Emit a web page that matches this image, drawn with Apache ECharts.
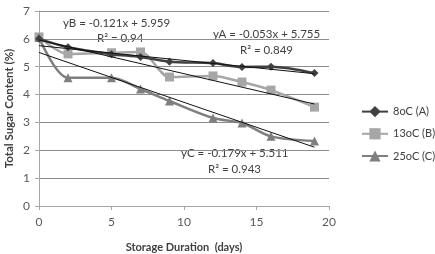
<!DOCTYPE html>
<html>
<head>
<meta charset="utf-8">
<script src="https://cdn.jsdelivr.net/npm/echarts@6/dist/echarts.min.js"></script>
<style>
  html, body { margin: 0; padding: 0; background: #fff; }
  #chart { width: 435px; height: 254px; }
</style>
</head>
<body>
<div id="chart"></div>
<script>
// storage days and total sugar content per temperature
const days = [0, 2, 5, 7, 9, 12, 14, 16, 19]
const sugarA = [6.0, 5.7, 5.45, 5.35, 5.18, 5.13, 4.99, 5.0, 4.77]
const sugarB = [6.07, 5.46, 5.5, 5.53, 4.63, 4.67, 4.45, 4.16, 3.55]
const sugarC = [6.05, 4.6, 4.6, 4.2, 3.77, 3.16, 2.98, 2.5, 2.33]

// linear trend end points (from the fitted equations)
const trendA = [[0, 5.755], [19, 4.748]]
const trendB = [[0, 5.959], [19, 3.660]]
const trendC = [[0, 5.511], [19, 2.110]]

const names = ['8oC (A)', '13oC (B)', '25oC (C)']

const font = 'Lato, "Open Sans", sans-serif'
const pairs = (ys) => days.map((d, i) => [d, ys[i]])

let chart = echarts.init(document.getElementById('chart'))

let trend = (data) => ({
    type: 'line', data: data, symbol: 'none', silent: true,
    lineStyle: {color: '#111', width: 1}, z: 5
})

chart.setOption({
    animation: false,
    textStyle: {fontFamily: font},
    grid: {left: 39, right: 106, top: 11, bottom: 48, outerBoundsMode: 'none', containLabel: false},
    legend: {
        orient: 'vertical', left: 356, top: 101, itemGap: 11,
        itemWidth: 26, itemHeight: 14,
        textStyle: {fontSize: 11, color: '#404040', fontFamily: font},
        data: names
    },
    xAxis: {
        type: 'value', min: 0, max: 20, interval: 5,
        name: 'Storage Duration  (days)', nameLocation: 'middle', nameGap: 36,
        nameMoveOverlap: false,
        nameTextStyle: {fontSize: 11, fontWeight: 'bold', color: '#404040'},
        axisLine: {lineStyle: {color: '#a6a6a6', width: 1}},
        axisTick: {show: true, length: 4, lineStyle: {color: '#a6a6a6'}},
        axisLabel: {fontSize: 12, color: '#595959', margin: 10},
        splitLine: {show: false}
    },
    yAxis: {
        type: 'value', min: 0, max: 7, interval: 1,
        name: 'Total Sugar Content (%)', nameLocation: 'middle', nameGap: 24,
        nameMoveOverlap: false,
        nameTextStyle: {fontSize: 11.5, fontWeight: 'bold', color: '#404040'},
        axisLine: {show: true, lineStyle: {color: '#a6a6a6', width: 1}},
        axisTick: {show: true, length: 4, lineStyle: {color: '#a6a6a6'}},
        axisLabel: {fontSize: 12, color: '#595959', margin: 9},
        splitLine: {lineStyle: {color: '#8c8c8c', width: 1}}
    },
    series: [
        {
            name: names[0], type: 'line', smooth: 0.3, data: pairs(sugarA),
            symbol: 'diamond', symbolSize: 8,
            itemStyle: {color: '#404040'}, lineStyle: {color: '#404040', width: 2.5}, z: 4
        },
        {
            name: names[1], type: 'line', smooth: 0.3, data: pairs(sugarB),
            symbol: 'rect', symbolSize: 9,
            itemStyle: {color: '#a6a6a6'}, lineStyle: {color: '#a6a6a6', width: 2.5}, z: 3
        },
        {
            name: names[2], type: 'line', smooth: 0.3, data: pairs(sugarC),
            symbol: 'triangle', symbolSize: 9,
            itemStyle: {color: '#7f7f7f'}, lineStyle: {color: '#7f7f7f', width: 2.5}, z: 3
        },
        trend(trendA), trend(trendB), trend(trendC)
    ],
    graphic: [
        {type: 'text', left: 63, top: 17, style: {text: 'yB = -0.121x + 5.959', fontSize: 11.5, fill: '#404040', fontFamily: font}},
        {type: 'text', left: 97, top: 32, style: {text: 'R² = 0.94', fontSize: 11.5, fill: '#404040', fontFamily: font}},
        {type: 'text', left: 213, top: 28, style: {text: 'yA = -0.053x + 5.755', fontSize: 11.5, fill: '#404040', fontFamily: font}},
        {type: 'text', left: 240, top: 44, style: {text: 'R² = 0.849', fontSize: 11.5, fill: '#404040', fontFamily: font}},
        {type: 'text', left: 181, top: 147, style: {text: 'yC = -0.179x + 5.511', fontSize: 11.5, fill: '#404040', fontFamily: font}},
        {type: 'text', left: 208, top: 163, style: {text: 'R² = 0.943', fontSize: 11.5, fill: '#404040', fontFamily: font}}
    ]
})
</script>
</body>
</html>
